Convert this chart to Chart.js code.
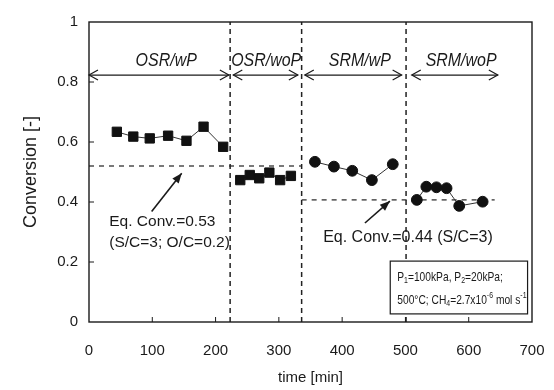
<!DOCTYPE html>
<html>
<head>
<meta charset="utf-8">
<script src="https://cdn.jsdelivr.net/npm/chart.js@4"></script>
<style>
  html, body { margin: 0; padding: 0; background: #fff; }
  #wrap { width: 554px; height: 390px; }
</style>
</head>
<body>
<div id="wrap"><canvas id="c" width="554" height="390"></canvas></div>
<script>
// axis ticks
const xTicks = [0, 100, 200, 300, 400, 500, 600, 700];
const yTicks = [0, 0.2, 0.4, 0.6, 0.8, 1];

// measured conversion, per operating phase
const osrWpTime = [44, 70, 96, 125, 154, 181, 212];
const osrWpConv = [0.634, 0.618, 0.612, 0.621, 0.604, 0.651, 0.584];
const osrWopTime = [239, 254, 269, 285, 302, 319];
const osrWopConv = [0.473, 0.490, 0.479, 0.498, 0.473, 0.487];
const srmWpTime = [357, 387, 416, 447, 480];
const srmWpConv = [0.534, 0.518, 0.504, 0.473, 0.526];
const srmWopTime = [518, 533, 549, 565, 585, 622];
const srmWopConv = [0.407, 0.451, 0.449, 0.446, 0.387, 0.401];

// phase separators and labels
const phaseBounds = [223, 336, 501];
const phaseNames = ['OSR/wP', 'OSR/woP', 'SRM/wP', 'SRM/woP'];
const phaseStart = [0, 228, 341, 510];
const phaseEnd = [221, 330, 494, 646];
const phaseLabelAt = [122, 280, 428, 588];
const phaseArrowY = 0.823;
const phaseLabelY = 0.87;

// equilibrium conversion lines
const eqOsrConv = 0.52, eqOsrFrom = 0, eqOsrTo = 336;
const eqSrmConv = 0.407, eqSrmFrom = 336, eqSrmTo = 641;

const pts = (xs, ys) => xs.map((x, i) => ({ x, y: ys[i] }));
const INK = '#1a1a1a';
const FONT = '"Liberation Sans", Arial, sans-serif';

const series = (data, style, radius) => ({
  data, showLine: true, borderColor: '#333', borderWidth: 1,
  pointStyle: style, pointRadius: radius, pointHoverRadius: radius,
  pointBackgroundColor: '#111', pointBorderColor: '#111', pointBorderWidth: 1
});
const dashed = (data, dash, w) => ({
  data, showLine: true, borderColor: '#222', borderWidth: w, borderDash: dash,
  pointRadius: 0, pointHoverRadius: 0
});

const datasets = [
  series(pts(osrWpTime, osrWpConv), 'rect', 6.6),
  series(pts(osrWopTime, osrWopConv), 'rect', 6.6),
  series(pts(srmWpTime, srmWpConv), 'circle', 5.4),
  series(pts(srmWopTime, srmWopConv), 'circle', 5.4),
  dashed([{ x: eqOsrFrom, y: eqOsrConv }, { x: eqOsrTo, y: eqOsrConv }], [5, 5], 1.2),
  dashed([{ x: eqSrmFrom, y: eqSrmConv }, { x: eqSrmTo, y: eqSrmConv }], [5, 5], 1.2),
  ...phaseBounds.map(b => dashed([{ x: b, y: 0 }, { x: b, y: 1 }], [5, 4], 1.5))
];

function richText(ctx, parts, x, y, size) {
  let cx = x;
  parts.forEach(p => {
    const small = p.sub || p.sup;
    const s = small ? size * 0.68 : size;
    ctx.font = s + 'px ' + FONT;
    const dy = p.sub ? size * 0.28 : p.sup ? -size * 0.36 : 0;
    ctx.fillText(p.t, cx, y + dy);
    cx += ctx.measureText(p.t).width;
  });
}

function arrowHead(ctx, x1, y1, x2, y2, len, half, filled) {
  const a = Math.atan2(y2 - y1, x2 - x1);
  const bx = x2 - len * Math.cos(a), by = y2 - len * Math.sin(a);
  const nx = -Math.sin(a) * half, ny = Math.cos(a) * half;
  ctx.beginPath();
  ctx.moveTo(bx + nx, by + ny);
  ctx.lineTo(x2, y2);
  ctx.lineTo(bx - nx, by - ny);
  if (filled) { ctx.closePath(); ctx.fill(); } else ctx.stroke();
}

const decor = {
  id: 'decor',
  afterDatasetsDraw(chart) {
    const { ctx, chartArea: a, scales: { x, y } } = chart;
    const px = v => x.getPixelForValue(v), py = v => y.getPixelForValue(v);
    ctx.save();
    ctx.strokeStyle = INK; ctx.fillStyle = INK;

    // frame and inside ticks
    ctx.lineWidth = 1.4;
    ctx.strokeRect(a.left, a.top, a.right - a.left, a.bottom - a.top);
    ctx.lineWidth = 1;
    ctx.beginPath();
    xTicks.slice(1, -1).forEach(t => { ctx.moveTo(px(t), a.bottom); ctx.lineTo(px(t), a.bottom - 5); });
    yTicks.slice(1, -1).forEach(t => { ctx.moveTo(a.left, py(t)); ctx.lineTo(a.left + 5, py(t)); });
    ctx.stroke();

    // phase arrows and labels
    ctx.lineWidth = 1.2;
    phaseNames.forEach((name, i) => {
      const x1 = px(phaseStart[i]), x2 = px(phaseEnd[i]), yy = py(phaseArrowY);
      ctx.beginPath(); ctx.moveTo(x1, yy); ctx.lineTo(x2, yy); ctx.stroke();
      arrowHead(ctx, x2, yy, x1, yy, 9, 5, false);
      arrowHead(ctx, x1, yy, x2, yy, 9, 5, false);
      ctx.save();
      ctx.translate(px(phaseLabelAt[i]), py(phaseLabelY));
      ctx.scale(0.84, 1);
      ctx.font = 'italic 19px ' + FONT;
      ctx.textAlign = 'center'; ctx.textBaseline = 'middle';
      ctx.fillText(name, 0, 0);
      ctx.restore();
    });

    // equilibrium annotations
    ctx.lineWidth = 1.6;
    let x1 = px(99), y1 = py(0.368), x2 = px(146.5), y2 = py(0.496);
    ctx.beginPath(); ctx.moveTo(x1, y1); ctx.lineTo(x2, y2); ctx.stroke();
    arrowHead(ctx, x1, y1, x2, y2, 10, 4, true);
    x1 = px(436); y1 = py(0.33); x2 = px(475.5); y2 = py(0.403);
    ctx.beginPath(); ctx.moveTo(x1, y1); ctx.lineTo(x2, y2); ctx.stroke();
    arrowHead(ctx, x1, y1, x2, y2, 10, 4, true);

    ctx.textAlign = 'left'; ctx.textBaseline = 'middle';
    ctx.font = '15.5px ' + FONT;
    ctx.fillText('Eq. Conv.=0.53', px(32), py(0.333));
    ctx.fillText('(S/C=3; O/C=0.2)', px(32), py(0.263));
    ctx.font = '16px ' + FONT;
    ctx.fillText('Eq. Conv.=0.44 (S/C=3)', px(370), py(0.28));

    // conditions box
    ctx.lineWidth = 1.2;
    const bl = px(476), br = px(693), bt = py(0.203), bb = py(0.027);
    ctx.fillStyle = '#fff';
    ctx.fillRect(bl, bt, br - bl, bb - bt);
    ctx.strokeRect(bl, bt, br - bl, bb - bt);
    ctx.fillStyle = INK;
    ctx.save();
    ctx.translate(bl + 7, bt);
    ctx.scale(0.8, 1);
    richText(ctx, [{ t: 'P' }, { t: '1', sub: true }, { t: '=100kPa, P' }, { t: '2', sub: true }, { t: '=20kPa;' }],
      0, 16, 12.8);
    richText(ctx, [{ t: '500°C; CH' }, { t: '4', sub: true }, { t: '=2.7x10' }, { t: '-6', sup: true },
      { t: ' mol s' }, { t: '-1', sup: true }], 0, 39, 12.8);
    ctx.restore();
    ctx.restore();
  }
};

new Chart(document.getElementById('c'), {
  type: 'scatter',
  data: { datasets },
  options: {
    responsive: false,
    animation: false,
    events: [],
    layout: { padding: { top: 22, right: 22, left: 0, bottom: 0 } },
    plugins: { legend: { display: false }, tooltip: { enabled: false } },
    scales: {
      x: {
        type: 'linear', min: 0, max: 700,
        afterFit: s => { s.height = 68; s.paddingLeft = 0; s.paddingRight = 0; },
        afterBuildTicks: s => { s.ticks = xTicks.map(v => ({ value: v })); },
        ticks: { color: INK, padding: 20, font: { family: FONT, size: 15 } },
        grid: { display: false, drawTicks: false },
        border: { display: false },
        title: { display: true, text: 'time [min]', color: INK, padding: { bottom: 3 },
          font: { family: FONT, size: 15 } }
      },
      y: {
        type: 'linear', min: 0, max: 1,
        afterFit: s => { s.width = 89; },
        afterBuildTicks: s => { s.ticks = yTicks.map(v => ({ value: v })); },
        ticks: { color: INK, padding: 11, font: { family: FONT, size: 15 },
          callback: v => String(Math.round(v * 10) / 10) },
        grid: { display: false, drawTicks: false },
        border: { display: false },
        title: { display: true, text: 'Conversion [-]', color: INK, padding: { top: 20 },
          font: { family: FONT, size: 18 } }
      }
    }
  },
  plugins: [decor]
});
</script>
</body>
</html>
